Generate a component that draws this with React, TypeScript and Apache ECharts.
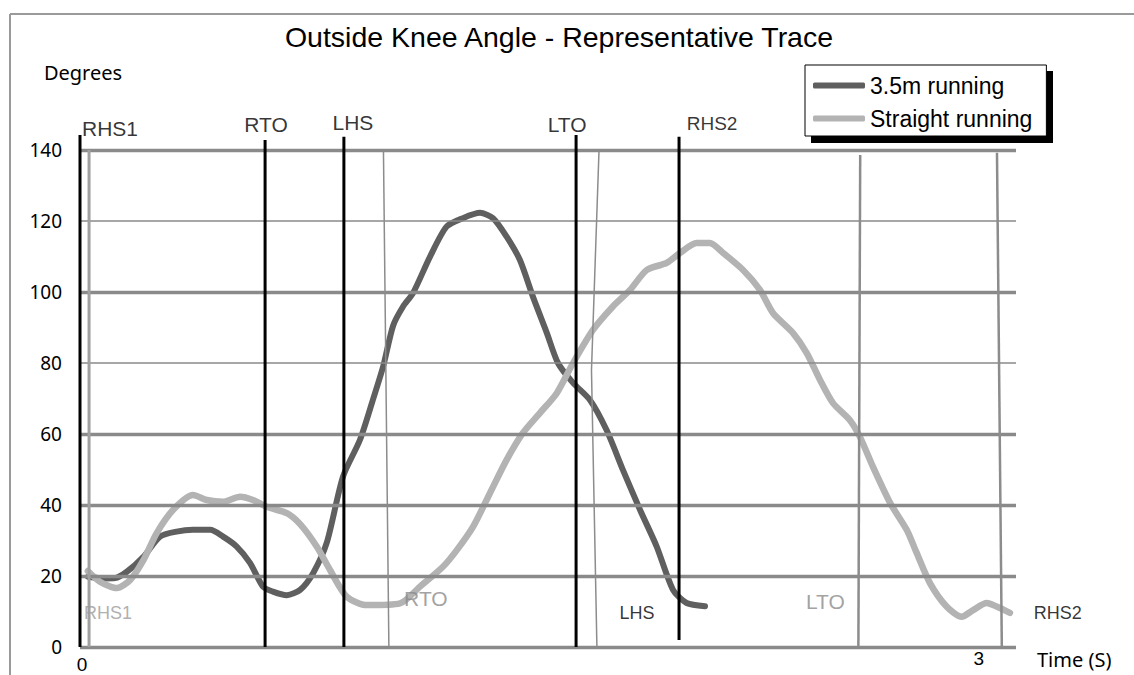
import React, { useEffect, useRef } from 'react';
import * as echarts from 'echarts';

const titleText = 'Outside Knee Angle - Representative Trace';
const yAxisName = 'Degrees';
const xAxisName = 'Time (S)';
const seriesNames = ['3.5m running', 'Straight running'];

const yTicks = [0, 20, 40, 60, 80, 100, 120, 140];
const xTickLabels = [0, 3];
const xMax = 3.1;

// 3.5m running trace (time in s, angle in degrees)
const time35 = [0.026, 0.083, 0.116, 0.155, 0.21, 0.265, 0.32, 0.374, 0.431, 0.474, 0.519, 0.563, 0.606, 0.639, 0.685, 0.729, 0.772, 0.817, 0.871, 0.927, 0.97, 1.004, 1.037, 1.07, 1.103, 1.159, 1.214, 1.268, 1.325, 1.368, 1.413, 1.457, 1.5, 1.546, 1.583, 1.633, 1.689, 1.744, 1.798, 1.855, 1.91, 1.964, 2.009, 2.07];
const angle35 = [19.8, 19.3, 19.4, 21.2, 25.4, 31.1, 32.5, 33.0, 33.0, 31.1, 28.3, 23.7, 17.0, 15.6, 14.6, 16.1, 20.8, 29.3, 48.0, 58.3, 69.6, 79.0, 90.5, 95.9, 99.7, 109.9, 118.4, 120.8, 122.3, 120.8, 115.6, 109.0, 98.7, 88.5, 80.0, 74.4, 69.6, 61.1, 49.9, 38.6, 28.3, 16.1, 12.4, 11.5];

// Straight running trace
const timeStraight = [0.026, 0.066, 0.122, 0.166, 0.21, 0.254, 0.308, 0.374, 0.42, 0.474, 0.53, 0.573, 0.618, 0.685, 0.729, 0.784, 0.828, 0.883, 0.95, 1.06, 1.126, 1.202, 1.248, 1.302, 1.358, 1.413, 1.467, 1.523, 1.579, 1.633, 1.699, 1.765, 1.822, 1.877, 1.943, 1.987, 2.042, 2.086, 2.13, 2.196, 2.252, 2.295, 2.361, 2.407, 2.451, 2.494, 2.55, 2.583, 2.626, 2.683, 2.738, 2.771, 2.815, 2.87, 2.92, 2.958, 3.003, 3.036, 3.08];
const angleStraight = [21.4, 18.4, 16.6, 18.9, 24.5, 32.1, 38.6, 42.8, 41.4, 40.9, 42.3, 41.4, 39.5, 37.7, 34.6, 28.3, 21.7, 14.2, 11.8, 12.3, 17.0, 22.6, 27.3, 33.9, 43.4, 52.7, 60.3, 65.9, 71.5, 80.0, 89.3, 95.9, 100.6, 106.2, 108.2, 111.0, 113.8, 113.8, 111.0, 106.2, 100.6, 94.1, 88.5, 82.8, 75.2, 68.7, 63.9, 59.2, 50.8, 40.6, 33.0, 26.5, 18.0, 11.4, 8.5, 10.4, 12.4, 11.4, 9.6];

// Gait events
const eventNames = ['RHS1', 'RTO', 'LHS', 'LTO', 'RHS2'];
const events35Time = [0, 0.613, 0.874, 1.643, 1.984];
const events35Top = [144.2, 142.8, 143.7, 144.2, 143.7];
const events35Bottom = [0, 0, 0, 0, 2.0];
const eventsStraightTimes = [[0.03, 0.03], [1.005, 1.023], [1.719, 1.694, 1.712], [2.584, 2.578], [3.037, 3.053]];
const eventsStraightAngles = [[140, 0], [140, 0], [140, 78, 0], [138.6, 0], [139.2, 0]];

// styles
const straightEventWidths = [3, 1.5, 1.5, 2.5, 2.5];
const straightEventColors = ['#a0a0a0', '#8c8c8c', '#8c8c8c', '#8c8c8c', '#8c8c8c'];
const topLabelOffsets = [[30, -22], [1, -25.5], [9, -27.5], [-9, -25.5], [33, -26.7]];
const topLabelSizes = [21, 21, 21, 21, 19];
const bottomLabelOffsets = [[19, -34], [37, -49], [40, -34], [-33, -46], [56, -34]];
const bottomLabelColors = ['#9a9a9a', '#8a8a8a', '#000000', '#8a8a8a', '#000000'];
const bottomLabelSizes = [18, 21, 18, 21, 18];

const ARIAL = 'Liberation Sans, Arial, sans-serif';
const CAL = 'Noto Sans, sans-serif';

export default function App() {
  const ref = useRef<HTMLDivElement>(null);
  useEffect(() => {
    if (!ref.current) return;
    const chart = echarts.init(ref.current, null, { renderer: 'svg' });

    const series: any[] = [];
    // gridlines
    series.push({
      name: 'grid',
      type: 'line',
      data: [],
      silent: true,
      z: 1,
      markLine: {
        silent: true,
        symbol: 'none',
        animation: false,
        label: { show: false },
        data: yTicks.map((v) => ({
          yAxis: v,
          lineStyle: { color: '#8a8a8a', type: 'solid', width: v === 80 || v === 120 ? 1.6 : 3.4 },
        })),
      },
    });
    series.push({
      name: seriesNames[0],
      type: 'line',
      data: time35.map((t, i) => [t, angle35[i]]),
      showSymbol: false,
      symbol: 'none',
      smooth: 0.25,
      color: '#5f5f5f',
      lineStyle: { width: 6, color: '#5f5f5f', cap: 'round', join: 'round' },
      z: 3,
    });
    series.push({
      name: seriesNames[1],
      type: 'line',
      data: timeStraight.map((t, i) => [t, angleStraight[i]]),
      showSymbol: false,
      symbol: 'none',
      smooth: 0.25,
      color: '#b3b3b3',
      lineStyle: { width: 6.5, color: '#b3b3b3', cap: 'round', join: 'round' },
      z: 4,
    });
    eventNames.forEach((n, i) => {
      series.push({
        name: 'ev35_' + n,
        type: 'line',
        data: [[events35Time[i], events35Top[i]], [events35Time[i], events35Bottom[i]]],
        symbol: 'none',
        clip: false,
        silent: true,
        lineStyle: { color: '#000', width: 3 },
        z: 6,
      });
      series.push({
        name: 'evStraight_' + n,
        type: 'line',
        data: eventsStraightTimes[i].map((t, j) => [t, eventsStraightAngles[i][j]]),
        symbol: 'none',
        clip: false,
        silent: true,
        lineStyle: { color: straightEventColors[i], width: straightEventWidths[i] },
        z: 5,
      });
    });
    series.push({
      name: 'topLabels',
      type: 'scatter',
      clip: false,
      silent: true,
      symbolSize: 1,
      itemStyle: { color: 'rgba(0,0,0,0)' },
      z: 7,
      data: eventNames.map((n, i) => ({
        value: [events35Time[i], 140],
        name: n,
        label: {
          show: true,
          position: 'inside',
          formatter: n,
          offset: topLabelOffsets[i],
          color: '#000',
          fontSize: topLabelSizes[i],
          fontFamily: ARIAL,
        },
      })),
    });
    series.push({
      name: 'bottomLabels',
      type: 'scatter',
      clip: false,
      silent: true,
      symbolSize: 1,
      itemStyle: { color: 'rgba(0,0,0,0)' },
      z: 7,
      data: eventNames.map((n, i) => {
        const ts = eventsStraightTimes[i];
        return {
          value: [ts[ts.length - 1], 0],
          name: n,
          label: {
            show: true,
            position: 'inside',
            formatter: n,
            offset: bottomLabelOffsets[i],
            color: bottomLabelColors[i],
            fontSize: bottomLabelSizes[i],
            fontFamily: ARIAL,
          },
        };
      }),
    });

    chart.setOption({
      animation: false,
      backgroundColor: '#ffffff',
      title: {
        text: titleText,
        left: 559,
        top: 22,
        textAlign: 'center',
        padding: 0,
        textStyle: { fontSize: 28.5, fontWeight: 'normal', fontFamily: ARIAL, color: '#000', lineHeight: 29 },
      },
      legend: {
        orient: 'vertical',
        left: 805,
        top: 65,
        padding: [9, 14, 6, 8],
        itemGap: 10,
        itemWidth: 52,
        itemHeight: 6,
        backgroundColor: '#ffffff',
        borderColor: '#000',
        borderWidth: 1,
        borderRadius: 0,
        z: 10,
        textStyle: { fontSize: 23, fontFamily: ARIAL, color: '#000' },
        data: seriesNames.map((n) => ({ name: n, icon: 'roundRect' })),
      },
      grid: { left: 80, right: 118, top: 150, bottom: 28, outerBoundsMode: 'none', containLabel: false },
      xAxis: {
        type: 'value',
        min: 0,
        max: xMax,
        interval: 3,
        name: xAxisName,
        nameLocation: 'end',
        nameGap: 21,
        nameTextStyle: { fontSize: 20, fontFamily: CAL, color: '#000', verticalAlign: 'top', lineHeight: 22, padding: [1, 0, 0, 0] },
        axisLine: { show: false },
        axisTick: { show: false },
        splitLine: { show: false },
        axisLabel: {
          margin: 2,
          showMaxLabel: true,
          formatter: (v: number) => {
            if (!xTickLabels.includes(v)) return '';
            return v === 0 ? '{z|' + v + '}' : '{t|' + v + '}';
          },
          rich: {
            z: { fontSize: 19, fontFamily: ARIAL, color: '#000', padding: [6, 0, 0, 4] },
            t: { fontSize: 19, fontFamily: ARIAL, color: '#000', padding: [0, 14, 0, 0] },
          },
        },
      },
      yAxis: {
        type: 'value',
        min: 0,
        max: 140,
        interval: 20,
        name: yAxisName,
        nameLocation: 'end',
        nameGap: 68,
        nameTextStyle: { fontSize: 20, fontFamily: CAL, color: '#000', padding: [0, 0, 0, 6] },
        axisLine: { show: false },
        axisTick: { show: false },
        splitLine: { show: false },
        axisLabel: { fontSize: 19, fontFamily: CAL, color: '#000', margin: 18 },
      },
      graphic: [
        { type: 'line', shape: { x1: 10, y1: 14, x2: 10, y2: 675 }, style: { stroke: '#9a9a9a', lineWidth: 2 }, z: 0 },
        { type: 'line', shape: { x1: 10, y1: 14, x2: 1134, y2: 14 }, style: { stroke: '#9a9a9a', lineWidth: 2 }, z: 0 },
        { type: 'rect', shape: { x: 811, y: 71, width: 242, height: 72 }, style: { fill: '#000' }, z: 3 },
      ],
      series,
    });
    return () => chart.dispose();
  }, []);
  return <div ref={ref} style={{ position: 'absolute', left: 0, top: 0, width: 1134, height: 675 }} />;
}
